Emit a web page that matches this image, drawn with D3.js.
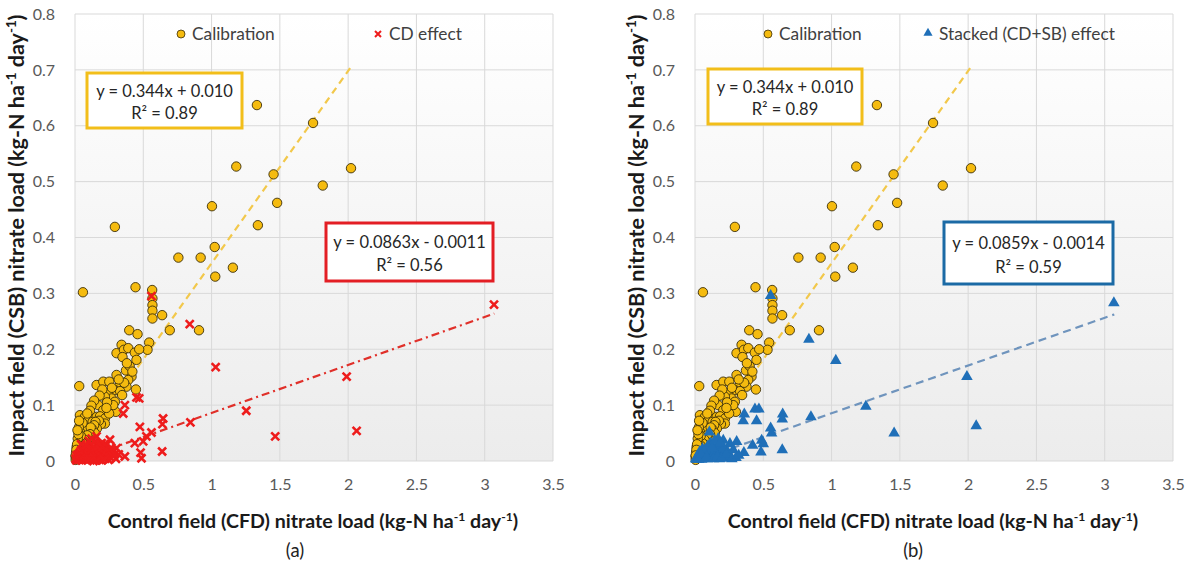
<!DOCTYPE html>
<html>
<head>
<meta charset="utf-8">
<script src="https://cdn.jsdelivr.net/npm/d3@7"></script>
<style>
  html, body { margin: 0; padding: 0; background: #ffffff; }
  svg { display: block; font-family: Lato, "Open Sans", sans-serif; }
</style>
</head>
<body>
<svg id="chart" width="1188" height="567"></svg>
<script>
// ---- data ---------------------------------------------------------------
const xTicks = [0, 0.5, 1, 1.5, 2, 2.5, 3, 3.5];
const yTicks = [0, 0.1, 0.2, 0.3, 0.4, 0.5, 0.6, 0.7, 0.8];
const xTickLabels = ["0", "0.5", "1", "1.5", "2", "2.5", "3", "3.5"];
const yTickLabels = ["0", "0.1", "0.2", "0.3", "0.4", "0.5", "0.6", "0.7", "0.8"];

// Calibration period: control field (x) vs impact field (y)
const calibration = [
  [1.332,0.637],[1.743,0.605],[1.181,0.527],[2.021,0.524],[1.454,0.513],[1.814,0.493],
  [1.480,0.462],[1.003,0.456],[1.339,0.422],[0.292,0.419],[1.023,0.383],[0.757,0.364],
  [0.920,0.364],[1.156,0.346],[1.027,0.330],[0.443,0.311],[0.565,0.306],[0.058,0.302],
  [0.567,0.291],[0.567,0.279],[0.567,0.269],[0.567,0.255],[0.638,0.261],[0.694,0.234],
  [0.908,0.234],[0.397,0.234],[0.458,0.227],[0.543,0.212],[0.531,0.199],[0.341,0.208],
  [0.304,0.193],[0.358,0.199],[0.390,0.202],[0.438,0.194],[0.348,0.186],[0.450,0.181],
  [0.304,0.154],[0.373,0.162],[0.414,0.151],[0.390,0.145],[0.031,0.134],[0.158,0.136],
  [0.207,0.142],[0.251,0.142],[0.324,0.134],[0.377,0.133],[0.446,0.128],[0.292,0.127],
  [0.243,0.121],[0.268,0.112],[0.219,0.115],[0.170,0.100],[0.292,0.106],[0.256,0.097],
  [0.299,0.088],[0.207,0.091],[0.036,0.082],[0.073,0.079],[0.104,0.075],[0.158,0.079],
  [0.183,0.080],[0.219,0.076],[0.129,0.070],[0.170,0.064],[0.219,0.067],[0.049,0.061],
  [0.080,0.055],[0.036,0.052],[0.122,0.052],[0.061,0.043],[0.097,0.041],[0.031,0.035],
  [0.330,0.125],[0.360,0.140],[0.320,0.146],[0.345,0.118],[0.280,0.100],[0.235,0.105],
  [0.270,0.131],[0.200,0.128],[0.180,0.117],[0.140,0.108],[0.120,0.099],[0.110,0.090],
  [0.090,0.085],[0.055,0.068],[0.028,0.060],[0.190,0.066],[0.175,0.072],[0.150,0.070],
  [0.160,0.058],[0.140,0.064],[0.130,0.056],[0.145,0.050],[0.115,0.060],[0.110,0.048],
  [0.100,0.040],[0.090,0.046],[0.085,0.034],[0.075,0.026],[0.070,0.038],[0.065,0.030],
  [0.060,0.020],[0.055,0.032],[0.050,0.024],[0.045,0.016],[0.042,0.045],[0.040,0.028],
  [0.035,0.022],[0.030,0.014],[0.025,0.018],[0.022,0.030],[0.020,0.040],[0.020,0.008],
  [0.015,0.012],[0.012,0.025],[0.010,0.004],[0.008,0.015],[0.005,0.002],[0.004,0.008],
  [0.400,0.170],[0.420,0.160],[0.380,0.175],[0.470,0.200],[0.250,0.085],[0.230,0.095],
  [0.015,0.030],[0.025,0.048],[0.010,0.020],[0.018,0.055],[0.005,0.010],[0.030,0.072]
];

// Conventional drainage effect period (panel a)
const cdEffect = [
  [3.068,0.280],[0.560,0.295],[0.840,0.245],[1.030,0.168],[1.989,0.151],[1.254,0.090],
  [2.062,0.054],[1.466,0.044],[0.365,0.100],[0.353,0.085],[0.450,0.114],[0.470,0.112],
  [0.645,0.076],[0.640,0.066],[0.845,0.069],[0.475,0.061],[0.560,0.051],[0.523,0.044],
  [0.499,0.035],[0.438,0.032],[0.480,0.015],[0.487,0.005],[0.638,0.017],[0.365,0.008],
  [0.304,0.023],[0.256,0.038],[0.231,0.029],[0.195,0.032],[0.158,0.044],
  [0.010,0.001],[0.020,0.003],[0.030,0.002],[0.040,0.005],[0.050,0.001],[0.060,0.008],
  [0.070,0.004],[0.080,0.012],[0.090,0.002],[0.100,0.006],[0.110,0.015],[0.120,0.003],
  [0.130,0.010],[0.140,0.020],[0.150,0.005],[0.160,0.012],[0.170,0.025],[0.180,0.002],
  [0.190,0.018],[0.200,0.008],[0.210,0.022],[0.220,0.004],[0.240,0.014],[0.260,0.006],
  [0.280,0.018],[0.300,0.004],[0.320,0.012],[0.035,0.015],[0.055,0.020],[0.075,0.018],
  [0.095,0.025],[0.115,0.030],[0.125,0.022],[0.145,0.035],[0.165,0.004],[0.185,0.030],
  [0.205,0.015],[0.225,0.012],[0.245,0.002],[0.265,0.024],[0.050,0.010],[0.085,0.007],
  [0.105,0.014],[0.135,0.000],[0.155,0.016],[0.175,0.009],[0.195,0.001],[0.215,0.030],
  [0.015,0.008],[0.025,0.012],[0.045,0.030],[0.065,0.015],
  [0.005,0.004],[0.012,0.010],[0.028,0.007],[0.038,0.012],[0.048,0.018],[0.058,0.003],
  [0.068,0.010],[0.078,0.002],[0.088,0.016],[0.098,0.011],[0.108,0.004],[0.118,0.020],
  [0.128,0.015],[0.138,0.007],[0.148,0.024],[0.158,0.001],[0.168,0.016],[0.178,0.021],
  [0.188,0.008],[0.198,0.025],[0.208,0.004],[0.228,0.020],[0.238,0.008],[0.252,0.017],
  [0.272,0.010],[0.290,0.012],[0.062,0.026],[0.082,0.028],[0.102,0.036],[0.122,0.040]
];

// Stacked (controlled drainage + saturated buffer) effect period (panel b)
const stackedEffect = [
  [3.067,0.281],[0.554,0.294],[0.834,0.216],[1.031,0.178],[1.991,0.149],[1.251,0.096],
  [2.059,0.061],[1.458,0.048],[0.361,0.082],[0.353,0.070],[0.439,0.091],[0.468,0.091],
  [0.451,0.070],[0.642,0.082],[0.639,0.073],[0.849,0.077],[0.554,0.057],[0.561,0.048],
  [0.488,0.035],[0.500,0.029],[0.422,0.026],[0.483,0.014],[0.639,0.018],[0.358,0.013],
  [0.305,0.033],[0.256,0.029],[0.207,0.035],[0.170,0.038],[0.159,0.023],
  [0.010,0.001],[0.020,0.003],[0.030,0.002],[0.040,0.005],[0.050,0.001],[0.060,0.008],
  [0.070,0.004],[0.080,0.012],[0.090,0.002],[0.100,0.006],[0.110,0.015],[0.120,0.003],
  [0.130,0.010],[0.140,0.020],[0.150,0.005],[0.160,0.012],[0.170,0.025],[0.180,0.002],
  [0.190,0.018],[0.200,0.008],[0.210,0.022],[0.220,0.004],[0.240,0.014],[0.260,0.006],
  [0.280,0.018],[0.300,0.004],[0.035,0.015],[0.055,0.020],[0.075,0.018],[0.095,0.025],
  [0.115,0.030],[0.125,0.022],[0.145,0.035],[0.185,0.030],[0.105,0.050],[0.065,0.015],
  [0.005,0.002],[0.015,0.006],[0.025,0.001],[0.045,0.010],[0.085,0.005],[0.135,0.002],
  [0.165,0.006],[0.195,0.003],[0.230,0.010],[0.270,0.002],[0.320,0.008]
];

// Fitted regression lines: slope, intercept, x extent
const calibFit = { slope: 0.344, intercept: 0.010, xMax: 2.03 };
const cdFit = { slope: 0.0863, intercept: -0.0011, xMax: 3.07 };
const stackedFit = { slope: 0.0859, intercept: -0.0014, xMax: 3.07 };

const calibLabel = ["y = 0.344x + 0.010", "0.89"];
const cdLabel = ["y = 0.0863x - 0.0011", "0.56"];
const stackedLabel = ["y = 0.0859x - 0.0014", "0.59"];

// ---- drawing ------------------------------------------------------------
const svg = d3.select("#chart");
const defs = svg.append("defs");
const grad = defs.append("linearGradient").attr("id", "plotBg")
  .attr("x1", 0).attr("y1", 0).attr("x2", 0).attr("y2", 1);
grad.append("stop").attr("offset", "0%").attr("stop-color", "#ffffff");
grad.append("stop").attr("offset", "100%").attr("stop-color", "#ececec");

const GOLD = "#f5bb0f";
const GOLD_LINE = "#f2c84b";

function superTitle(sel, parts) {
  // parts: [text, isSuperscript]
  parts.forEach(([t, sup]) => {
    const ts = sel.append("tspan").text(t);
    if (sup) ts.attr("baseline-shift", "super").attr("font-size", "0.62em");
  });
}

function drawPanel(opts) {
  const x = d3.scaleLinear().domain([0, 3.5]).range([opts.left, opts.left + 478]);
  const y = d3.scaleLinear().domain([0, 0.8]).range([461, 14]);
  const g = svg.append("g");

  // plot background
  g.append("rect")
    .attr("x", x(0)).attr("y", y(0.8))
    .attr("width", x(3.5) - x(0)).attr("height", y(0) - y(0.8))
    .attr("fill", "url(#plotBg)");

  // gridlines
  g.append("g").selectAll("line.v").data(xTicks).join("line")
    .attr("x1", d => x(d)).attr("x2", d => x(d))
    .attr("y1", y(0)).attr("y2", y(0.8))
    .attr("stroke", "#d9d9d9").attr("stroke-width", 1);
  g.append("g").selectAll("line.h").data(yTicks).join("line")
    .attr("x1", x(0)).attr("x2", x(3.5))
    .attr("y1", d => y(d)).attr("y2", d => y(d))
    .attr("stroke", "#d9d9d9").attr("stroke-width", 1);

  // axes (labels only)
  const xAxis = d3.axisBottom(x).tickValues(xTicks)
    .tickFormat((d, i) => xTickLabels[i]).tickSize(0).tickPadding(18);
  const yAxis = d3.axisLeft(y).tickValues(yTicks)
    .tickFormat((d, i) => yTickLabels[i]).tickSize(0).tickPadding(20);
  const gx = g.append("g").attr("transform", `translate(0,${y(0)})`).call(xAxis);
  const gy = g.append("g").attr("transform", `translate(${x(0)},0)`).call(yAxis);
  [gx, gy].forEach(a => {
    a.select(".domain").remove();
    a.selectAll("text").attr("font-family", "Lato, 'Open Sans', sans-serif")
      .attr("font-size", 16).attr("fill", "#595959");
  });

  // axis titles
  const xt = g.append("text")
    .attr("x", opts.xTitleX).attr("y", 528)
    .attr("text-anchor", "middle").attr("font-weight", "bold")
    .attr("font-size", 19.6).attr("fill", "#1a1a1a");
  superTitle(xt, [["Control field (CFD) nitrate load (kg-N ha", false], ["-1", true], [" day", false], ["-1", true], [")", false]]);

  const yt = g.append("text")
    .attr("transform", `translate(${opts.yTitleX},${(y(0) + y(0.8)) / 2 - 2}) rotate(-90)`)
    .attr("text-anchor", "middle").attr("font-weight", "bold")
    .attr("font-size", 21.5).attr("fill", "#1a1a1a");
  superTitle(yt, [["Impact field (CSB) nitrate load (kg-N ha", false], ["-1", true], [" day", false], ["-1", true], [")", false]]);

  // panel label
  g.append("text").attr("x", opts.panelX).attr("y", 557)
    .attr("text-anchor", "middle").attr("font-size", 18.5).attr("fill", "#222")
    .text(opts.panel);

  // trend lines
  const fitLine = (fit) => [[0, fit.intercept], [fit.xMax, fit.slope * fit.xMax + fit.intercept]];
  const line = d3.line().x(d => x(d[0])).y(d => y(Math.max(d[1], 0)));
  g.append("path").attr("d", line(fitLine(calibFit)))
    .attr("fill", "none").attr("stroke", GOLD_LINE).attr("stroke-width", 2.2)
    .attr("stroke-dasharray", "7,5");

  // calibration points
  g.append("g").selectAll("circle").data(calibration).join("circle")
    .attr("cx", d => x(d[0])).attr("cy", d => y(d[1])).attr("r", 4.7)
    .attr("fill", GOLD).attr("stroke", "#3b2f0a").attr("stroke-width", 0.9);

  // effect-period trend line and points
  const ef = opts.effectFit;
  g.append("path").attr("d", line(fitLine(ef)))
    .attr("fill", "none").attr("stroke", opts.effectLine).attr("stroke-width", 2.2)
    .attr("stroke-dasharray", opts.effectDash);

  if (opts.marker === "cross") {
    const s = 4;
    g.append("g").selectAll("path").data(opts.effect).join("path")
      .attr("d", d => {
        const cx = x(d[0]), cy = y(d[1]);
        return `M${cx - s},${cy - s}L${cx + s},${cy + s}M${cx - s},${cy + s}L${cx + s},${cy - s}`;
      })
      .attr("stroke", opts.effectColor).attr("stroke-width", 2.6).attr("fill", "none");
  } else {
    const tri = d3.symbol().type(d3.symbolTriangle).size(58);
    g.append("g").selectAll("path").data(opts.effect).join("path")
      .attr("transform", d => `translate(${x(d[0])},${y(d[1]) - 1})`)
      .attr("d", tri).attr("fill", opts.effectColor);
  }

  // regression label boxes
  function eqBox(b, color, label) {
    g.append("rect").attr("x", b[0]).attr("y", b[1]).attr("width", b[2]).attr("height", b[3])
      .attr("fill", "#ffffff").attr("stroke", color).attr("stroke-width", 3);
    const cx = b[0] + b[2] / 2;
    g.append("text").attr("x", cx).attr("y", b[1] + b[3] * 0.43)
      .attr("text-anchor", "middle").attr("font-size", 16.5).attr("fill", "#262626")
      .text(label[0]);
    g.append("text").attr("x", cx).attr("y", b[1] + b[3] * 0.83)
      .attr("text-anchor", "middle").attr("font-size", 16.5).attr("fill", "#262626")
      .text("R² = " + label[1]);
  }
  eqBox(opts.calibBox, "#f2be1a", calibLabel);
  eqBox(opts.effectBox, opts.effectBoxColor, opts.effectLabel);

  // legend
  const lg = g.append("g");
  lg.append("circle").attr("cx", opts.legCalibX).attr("cy", 34).attr("r", 4)
    .attr("fill", GOLD).attr("stroke", "#3b2f0a").attr("stroke-width", 0.8);
  lg.append("text").attr("x", opts.legCalibX + 11).attr("y", 40)
    .attr("font-size", 17.3).attr("fill", "#404040").text("Calibration");
  if (opts.marker === "cross") {
    const s = 3, cx = opts.legEffectX, cy = 34;
    lg.append("path")
      .attr("d", `M${cx - s},${cy - s}L${cx + s},${cy + s}M${cx - s},${cy + s}L${cx + s},${cy - s}`)
      .attr("stroke", opts.effectColor).attr("stroke-width", 2).attr("fill", "none");
  } else {
    lg.append("path").attr("transform", `translate(${opts.legEffectX},33)`)
      .attr("d", d3.symbol().type(d3.symbolTriangle).size(36)).attr("fill", opts.effectColor);
  }
  lg.append("text").attr("x", opts.legEffectX + 11).attr("y", 40)
    .attr("font-size", 17.3).attr("fill", "#404040").text(opts.effectName);
}

drawPanel({
  left: 75, panel: "(a)", panelX: 295, xTitleX: 313, yTitleX: 24,
  effect: cdEffect, effectFit: cdFit, marker: "cross",
  effectColor: "#ee1c1c", effectLine: "#e0302a", effectDash: "8,4,2,4",
  calibBox: [87, 73, 155, 55], effectBox: [326, 223, 167, 58],
  effectBoxColor: "#e31e24", effectLabel: cdLabel,
  legCalibX: 181, legEffectX: 378, effectName: "CD effect"
});

drawPanel({
  left: 695, panel: "(b)", panelX: 913, xTitleX: 933, yTitleX: 644,
  effect: stackedEffect, effectFit: stackedFit, marker: "triangle",
  effectColor: "#1f6fb8", effectLine: "#6f94bd", effectDash: "8,5",
  calibBox: [708, 69, 154, 55], effectBox: [944, 222, 169, 62],
  effectBoxColor: "#1b6aa5", effectLabel: stackedLabel,
  legCalibX: 768, legEffectX: 928, effectName: "Stacked (CD+SB) effect"
});
</script>
</body>
</html>
